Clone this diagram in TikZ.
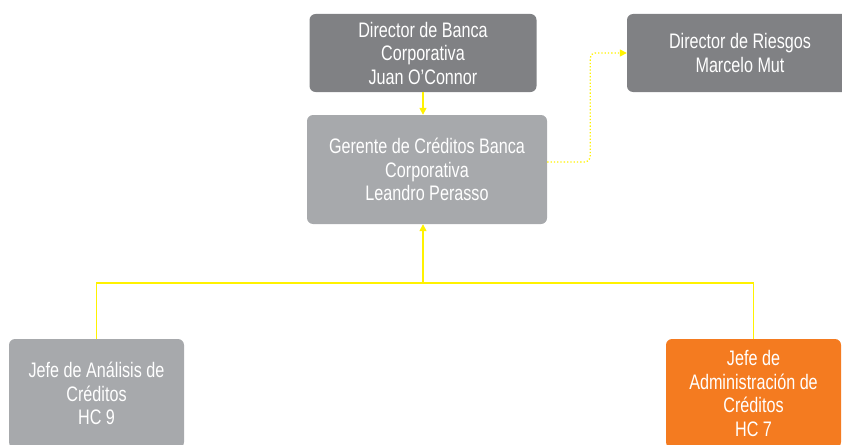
\documentclass[tikz,border=0pt]{standalone}
\usepackage{fontspec}
\setmainfont{Liberation Sans}[FakeStretch=0.77]
\usetikzlibrary{arrows.meta}
\definecolor{darkbox}{HTML}{808184}
\definecolor{lightbox}{HTML}{A7A9AC}
\definecolor{orangebox}{HTML}{F47B20}
\definecolor{ylw}{HTML}{FFF200}
\begin{document}
\begin{tikzpicture}[x=1pt,y=-1pt,
  box/.style={rectangle, rounded corners=6pt, draw=none, text=white, align=center,
    font=\fontsize{21}{23.5}\selectfont, inner sep=0pt},
  link/.style={draw=ylw, line width=1.5pt},
  tip/.style={-{Triangle[length=7pt,width=7pt]}}]
\useasboundingbox (0,0) rectangle (842,444);
\node[box, fill=darkbox, minimum width=227pt, minimum height=78pt] (A) at (423,53)
  {Director de Banca\\Corporativa\\Juan O’Connor};
\node[box, fill=lightbox, minimum width=240pt, minimum height=109pt] (B) at (427,169.5)
  {Gerente de Créditos Banca\\Corporativa\\Leandro Perasso};
\node[box, fill=darkbox, minimum width=226pt, minimum height=78pt] (E) at (740,53)
  {Director de Riesgos\\Marcelo Mut};
\node[box, fill=lightbox, minimum width=175pt, minimum height=109pt] (C) at (96.5,393.5)
  {Jefe de Análisis de\\Créditos\\HC 9};
\node[box, fill=orangebox, minimum width=175pt, minimum height=109pt] (D) at (753.5,393.5)
  {Jefe de\\Administración de\\Créditos\\HC 7};
\coordinate (j) at (423,283);
\draw[link, tip] (A.south) -- (A.south |- B.north);
\draw[link] (C.north) |- (j) -| (D.north);
\draw[link, tip] (j) -- (j |- B.south);
\draw[link, tip, line width=1.3pt, dotted, rounded corners=5pt]
  ([yshift=7.5pt]B.east) -- ++(43,0) |- (E.west);
\end{tikzpicture}
\end{document}
